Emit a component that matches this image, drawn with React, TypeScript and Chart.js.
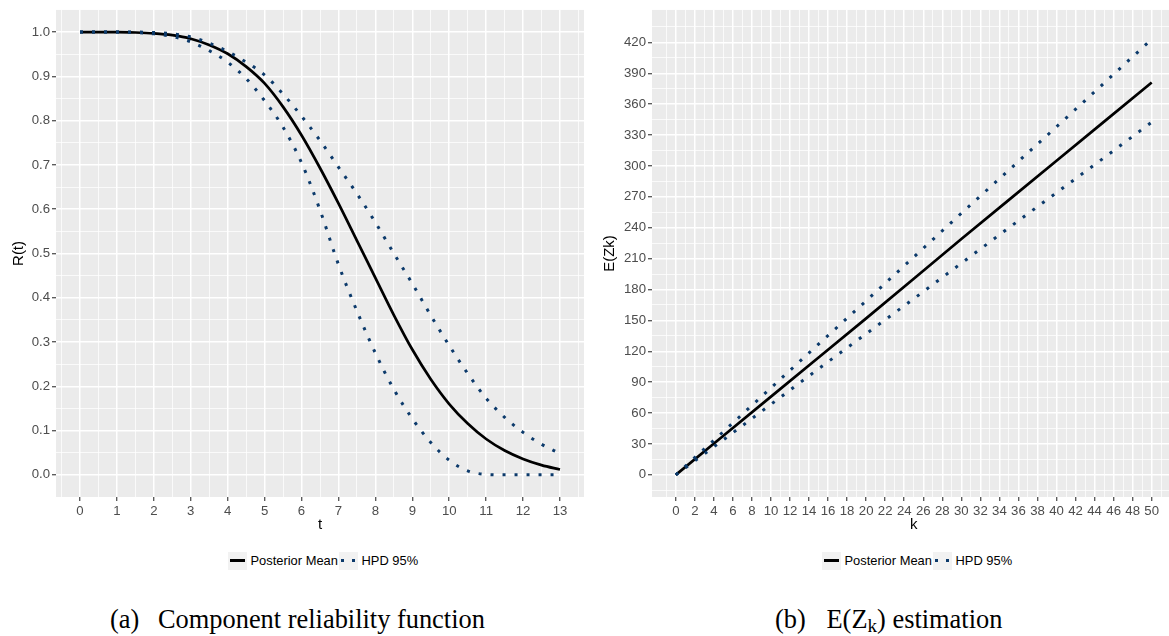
import React, { useEffect, useRef } from 'react';
import { Chart, registerables } from 'chart.js';

Chart.register(...registerables);

// ---------- Data: (a) component reliability function ----------
const tValues = [0, 0.5, 1, 1.5, 2, 2.5, 3, 3.5, 4, 4.5, 5, 5.5, 6, 6.5, 7, 7.5, 8, 8.5, 9, 9.5, 10, 10.5, 11, 11.5, 12, 12.5, 13];
const reliabilityMean = [1, 1, 1, 0.999, 0.997, 0.993, 0.985, 0.971, 0.951, 0.922, 0.884, 0.831, 0.767, 0.693, 0.613, 0.529, 0.445, 0.361, 0.283, 0.216, 0.16, 0.116, 0.081, 0.055, 0.036, 0.022, 0.012];
const reliabilityUpper = [1, 1, 1, 1, 0.999, 0.996, 0.989, 0.975, 0.956, 0.932, 0.903, 0.86, 0.81, 0.755, 0.695, 0.635, 0.57, 0.5, 0.432, 0.36, 0.292, 0.229, 0.173, 0.13, 0.096, 0.069, 0.048];
const reliabilityLower = [1, 1, 1, 0.999, 0.996, 0.99, 0.978, 0.958, 0.932, 0.895, 0.845, 0.785, 0.705, 0.598, 0.475, 0.37, 0.275, 0.193, 0.127, 0.073, 0.033, 0.009, 0.001, 0, 0, 0, 0];
const tTicks = [0, 1, 2, 3, 4, 5, 6, 7, 8, 9, 10, 11, 12, 13];
const rTicks = [0, 0.1, 0.2, 0.3, 0.4, 0.5, 0.6, 0.7, 0.8, 0.9, 1.0];

// ---------- Data: (b) E(Z_k) estimation ----------
const kValues = [0, 5, 10, 15, 20, 25, 30, 35, 40, 45, 50];
const ezMean = [0, 38, 76, 114, 152, 190.5, 229, 267, 305, 343, 381];
const ezUpper = [0, 42, 84.5, 127, 169, 211.5, 254, 296, 338, 380.5, 423];
const ezLower = [0, 34, 68.5, 103, 137, 171, 205.5, 240, 274, 308, 342.5];
const kTicks = [0, 2, 4, 6, 8, 10, 12, 14, 16, 18, 20, 22, 24, 26, 28, 30, 32, 34, 36, 38, 40, 42, 44, 46, 48, 50];
const ezTicks = [0, 30, 60, 90, 120, 150, 180, 210, 240, 270, 300, 330, 360, 390, 420];

const legendLabels = ['Posterior Mean', 'HPD 95%'];

// ---------- Styling ----------
const SANS = "'Liberation Sans', Arial, Helvetica, sans-serif";
const SERIF = "'Liberation Serif', 'Times New Roman', serif";
const NAVY = '#0c3a6b';
const PANEL_BG = '#EBEBEB';

const panelBg = {
  id: 'panelBg',
  beforeDraw(chart: any) {
    const { ctx, chartArea } = chart;
    if (!chartArea) return;
    ctx.save();
    ctx.fillStyle = PANEL_BG;
    ctx.fillRect(chartArea.left, chartArea.top, chartArea.right - chartArea.left, chartArea.bottom - chartArea.top);
    ctx.restore();
  },
};

function withMinor(major: number[], lo: number, hi: number) {
  const step = major[1] - major[0];
  const eps = (hi - lo) * 0.002;
  const minor: number[] = [];
  for (let v = major[0] - step / 2; v < hi; v += step) {
    if (v > lo + eps && v < hi - eps) minor.push(v);
  }
  return [...major, ...minor].sort((a, b) => a - b);
}

function isMajor(major: number[], v: number) {
  return major.some((m) => Math.abs(m - v) < 1e-6);
}

interface PanelCfg {
  x: number[];
  mean: number[];
  upper: number[];
  lower: number[];
  xMin: number;
  xMax: number;
  yMin: number;
  yMax: number;
  xMajor: number[];
  yMajor: number[];
  xTitle: string;
  yTitle: string;
  yFmt: (v: number) => string;
  yAxisWidth: number;
  padRight: number;
  smooth: boolean;
}

function scaleOpts(major: number[], lo: number, hi: number, fmt: (v: number) => string) {
  const all = withMinor(major, lo, hi);
  return {
    type: 'linear' as const,
    min: lo,
    max: hi,
    afterBuildTicks: (scale: any) => {
      scale.ticks = all.map((v) => ({ value: v }));
    },
    ticks: {
      autoSkip: false,
      maxRotation: 0,
      minRotation: 0,
      color: '#4D4D4D',
      font: { family: SANS, size: 13.2 },
      padding: 2,
      callback: (v: any) => (isMajor(major, Number(v)) ? fmt(Number(v)) : ''),
    },
    grid: {
      color: '#FFFFFF',
      lineWidth: (c: any) => (c.tick && isMajor(major, c.tick.value) ? 1.5 : 0.75),
      drawTicks: true,
      tickLength: 4,
      tickColor: (c: any) => (c.tick && isMajor(major, c.tick.value) ? '#333333' : 'rgba(0,0,0,0)'),
      tickWidth: 1.1,
    },
    border: { display: false },
  };
}

function makeChart(canvas: HTMLCanvasElement, cfg: PanelCfg, height: number) {
  const toPts = (ys: number[]) => cfg.x.map((x, i) => ({ x, y: ys[i] }));
  const interp = cfg.smooth ? { cubicInterpolationMode: 'monotone' as const } : { tension: 0 };
  const xs = scaleOpts(cfg.xMajor, cfg.xMin, cfg.xMax, (v) => String(Math.round(v)));
  const ys = scaleOpts(cfg.yMajor, cfg.yMin, cfg.yMax, cfg.yFmt);
  const dotted = {
    borderColor: NAVY,
    borderWidth: 3,
    borderDash: [3, 9],
    borderCapStyle: 'butt' as const,
    pointRadius: 0,
    fill: false,
    ...interp,
  };
  return new Chart(canvas, {
    type: 'line',
    data: {
      datasets: [
        { label: legendLabels[1], data: toPts(cfg.upper), ...dotted },
        { label: legendLabels[1] + ' lower', data: toPts(cfg.lower), ...dotted },
        {
          label: legendLabels[0],
          data: toPts(cfg.mean),
          borderColor: '#000000',
          borderWidth: 2.7,
          pointRadius: 0,
          fill: false,
          ...interp,
        },
      ],
    },
    options: {
      animation: false,
      responsive: false,
      events: [],
      layout: { padding: { left: 0, top: 5, right: cfg.padRight, bottom: 0 }, autoPadding: false },
      plugins: { legend: { display: false }, tooltip: { enabled: false } },
      scales: {
        x: {
          ...xs,
          afterFit: (s: any) => {
            s.height = height - 497;
          },
          title: {
            display: true,
            text: cfg.xTitle,
            color: '#000000',
            font: { family: SANS, size: 15 },
            padding: { top: 0, bottom: 6 },
          },
        },
        y: {
          ...ys,
          afterFit: (s: any) => {
            s.width = cfg.yAxisWidth;
          },
          title: {
            display: true,
            text: cfg.yTitle,
            color: '#000000',
            font: { family: SANS, size: 15 },
            padding: { top: 10, bottom: 0 },
          },
        },
      },
    } as any,
    plugins: [panelBg],
  });
}

function Panel({ left, width, height, cfg }: { left: number; width: number; height: number; cfg: PanelCfg }) {
  const ref = useRef<HTMLCanvasElement>(null);
  useEffect(() => {
    if (!ref.current) return;
    const chart = makeChart(ref.current, cfg, height);
    return () => chart.destroy();
  }, []);
  return (
    <canvas
      ref={ref}
      width={width}
      height={height}
      style={{ position: 'absolute', left, top: 0, width, height }}
    />
  );
}

function Legend({ left }: { left: number }) {
  const top = 551.5;
  const box = { position: 'absolute' as const, top: 0, width: 18.5, height: 18.5, background: '#F2F2F2' };
  const text = {
    position: 'absolute' as const,
    top: 0,
    lineHeight: '18.5px',
    whiteSpace: 'nowrap' as const,
    color: '#000',
  };
  return (
    <div style={{ position: 'absolute', left, top, height: 18.5, fontFamily: SANS, fontSize: 12.9 }}>
      <div style={{ ...box, left: 0 }}>
        <div style={{ position: 'absolute', left: 1.5, width: 15.5, top: 7.8, height: 3.2, background: '#000' }} />
      </div>
      <span style={{ ...text, left: 22.5 }}>{legendLabels[0]}</span>
      <div style={{ ...box, left: 111 }}>
        <div style={{ position: 'absolute', left: 1.5, width: 3, top: 7.8, height: 3, background: NAVY }} />
        <div style={{ position: 'absolute', left: 12.5, width: 3, top: 7.8, height: 3, background: NAVY }} />
      </div>
      <span style={{ ...text, left: 133.5 }}>{legendLabels[1]}</span>
    </div>
  );
}

const panelA: PanelCfg = {
  x: tValues,
  mean: reliabilityMean,
  upper: reliabilityUpper,
  lower: reliabilityLower,
  xMin: -0.65,
  xMax: 13.65,
  yMin: -0.05,
  yMax: 1.05,
  xMajor: tTicks,
  yMajor: rTicks,
  xTitle: 't',
  yTitle: 'R(t)',
  yFmt: (v) => v.toFixed(1),
  yAxisWidth: 56,
  padRight: 6,
  smooth: true,
};

const panelB: PanelCfg = {
  x: kValues,
  mean: ezMean,
  upper: ezUpper,
  lower: ezLower,
  xMin: -2.5,
  xMax: 52.5,
  yMin: -21.5,
  yMax: 451.5,
  xMajor: kTicks,
  yMajor: ezTicks,
  xTitle: 'k',
  yTitle: 'E(Zk)',
  yFmt: (v) => String(Math.round(v)),
  yAxisWidth: 61,
  padRight: 0.5,
  smooth: false,
};

export default function App() {
  const cap = {
    position: 'absolute' as const,
    top: 606,
    fontFamily: SERIF,
    fontSize: 26.4,
    lineHeight: '26px',
    whiteSpace: 'nowrap' as const,
    color: '#000',
  };
  return (
    <div
      style={{
        position: 'fixed',
        left: 0,
        top: 0,
        width: 1169,
        height: 636,
        overflow: 'hidden',
        background: '#fff',
      }}
    >
      <Panel left={0} width={590} height={540} cfg={panelA} />
      <Panel left={591} width={585} height={540} cfg={panelB} />
      <Legend left={228} />
      <Legend left={822} />
      <span style={{ ...cap, left: 110 }}>(a)</span>
      <span style={{ ...cap, left: 158 }}>Component reliability function</span>
      <span style={{ ...cap, left: 775 }}>(b)</span>
      <span style={{ ...cap, left: 826.5 }}>
        E(Z<sub style={{ fontSize: '0.72em', verticalAlign: '-0.22em', lineHeight: 0 }}>k</sub>) estimation
      </span>
    </div>
  );
}
